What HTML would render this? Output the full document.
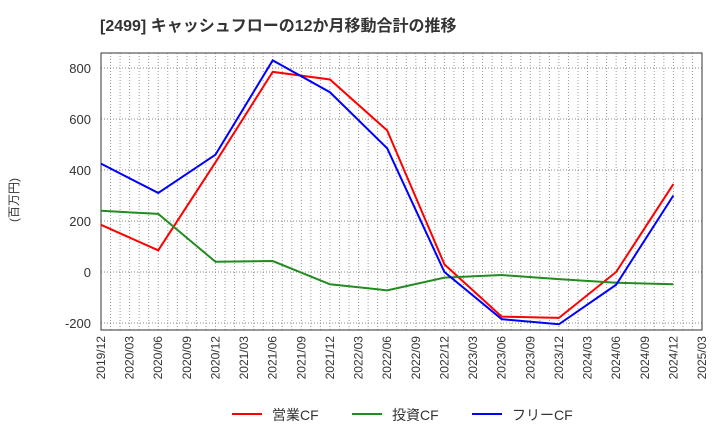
<!DOCTYPE html>
<html><head><meta charset="utf-8"><style>
body{margin:0;background:#fff;font-family:"Liberation Sans","Noto Sans CJK JP",sans-serif}
svg text{font-family:"Liberation Sans","Noto Sans CJK JP",sans-serif}
</style></head><body>
<svg id="c" width="720" height="440" xmlns="http://www.w3.org/2000/svg">
<text x="100" y="31" font-size="16" font-weight="bold" fill="#333">[2499]  キャッシュフローの12か月移動合計の推移</text>
<text transform="translate(18,200) rotate(-90)" font-size="12" fill="#333" text-anchor="middle">(百万円)</text>
<g id="grid"></g><g id="axes"></g><g id="series"></g>
<g>
<line x1="232" y1="414" x2="262" y2="414" stroke="#f00" stroke-width="2"/>
<text x="272" y="420" font-size="14" fill="#333">営業CF</text>
<line x1="352" y1="414" x2="382" y2="414" stroke="#228b22" stroke-width="2"/>
<text x="392" y="420" font-size="14" fill="#333">投資CF</text>
<line x1="472" y1="414" x2="502" y2="414" stroke="#00f" stroke-width="2"/>
<text x="512" y="420" font-size="14" fill="#333">フリーCF</text>
</g>
</svg>
<script>
const xLabels=["2019/12","2020/03","2020/06","2020/09","2020/12","2021/03","2021/06","2021/09","2021/12","2022/03","2022/06","2022/09","2022/12","2023/03","2023/06","2023/09","2023/12","2024/03","2024/06","2024/09","2024/12","2025/03"];
const yTicks=[-200,0,200,400,600,800];
const pointIdx=[0,2,4,6,8,10,12,14,16,18,20];
const operatingCF=[185,85,430,785,755,555,30,-175,-180,0,345];
const investingCF=[240,228,40,43,-48,-72,-22,-12,-28,-42,-48];
const freeCF=[425,310,460,830,705,485,0,-185,-205,-50,300];
const L=101,R=702,T=53,B=330;
const NS="http://www.w3.org/2000/svg";
const xs=i=>L+(R-L)*i/(xLabels.length-1);
const ys=v=>272-v*(204/800);
function mk(t,a,p){const e=document.createElementNS(NS,t);for(const k in a)e.setAttribute(k,a[k]);p.appendChild(e);return e;}
const g=document.getElementById('grid'),ax=document.getElementById('axes'),s=document.getElementById('series');
for(let m=1;m<(xLabels.length-1)*3;m++){const x=L+(R-L)*m/((xLabels.length-1)*3);
const l=mk('line',{x1:x,x2:x,y1:T,y2:B,stroke:'#999','stroke-dasharray':'1,2','stroke-width':1},g);

}
yTicks.forEach(v=>{const y=ys(v);
const l=mk('line',{x1:L,x2:R,y1:y,y2:y,stroke:'#888','stroke-dasharray':'1,2'},g);


const t=mk('text',{x:L-10,y:y+5,'font-size':13,fill:'#333','text-anchor':'end'},ax);t.textContent=v;

});
xLabels.forEach((lb,i)=>{const x=xs(i);
const t=mk('text',{transform:`translate(${x+4},${B+6}) rotate(-90)`,'font-size':12,fill:'#333','text-anchor':'end'},ax);t.textContent=lb;

});
const fr=mk('rect',{x:L,y:T,width:R-L,height:B-T,fill:'none',stroke:'#333'},ax);


[[operatingCF,'#f00','operating-cf-line'],[investingCF,'#228b22','investing-cf-line'],[freeCF,'#00f','free-cf-line']].forEach(([d,c,n])=>{
const p=mk('polyline',{points:d.map((v,i)=>xs(pointIdx[i])+','+ys(v)).join(' '),fill:'none',stroke:c,'stroke-width':2},s);

});
</script>
</body></html>
